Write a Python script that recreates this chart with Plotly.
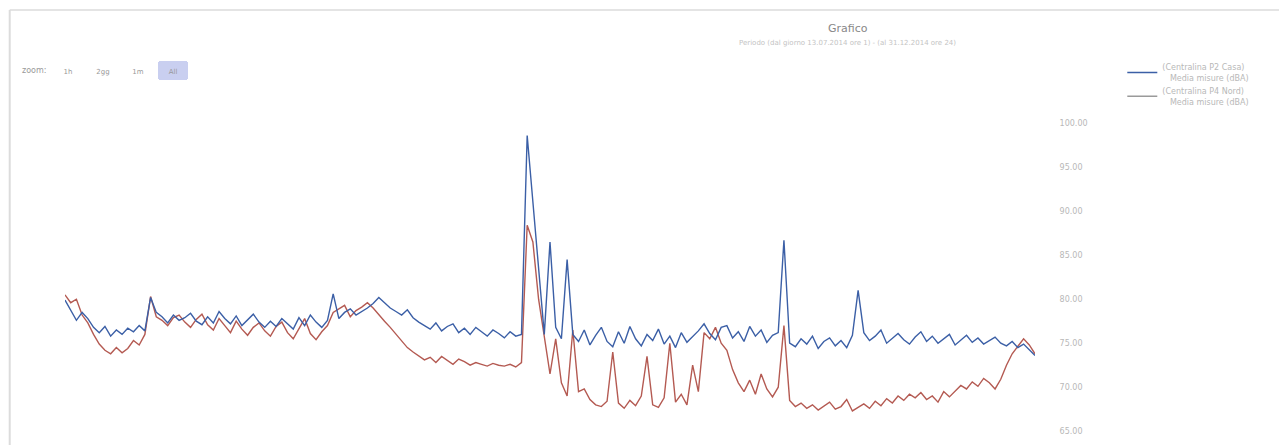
import pandas as pd
import plotly.graph_objects as go

start_date = "2014-07-13"

p2_casa = [
    79.9, 78.8, 77.6, 78.5, 77.8,
    76.8, 76.2, 76.9, 75.8, 76.5, 76.0, 76.7, 76.3, 77.0, 76.4,
    80.2,
    78.5, 78.0, 77.3, 78.2, 77.6, 77.9, 78.4, 77.5, 77.1, 78.0,
    77.3, 78.6, 77.8, 77.2, 78.1, 77.0, 77.6, 78.3, 77.4, 76.8,
    77.5, 76.9, 77.8, 77.2, 76.6, 77.9, 77.0, 78.2, 77.4, 76.8, 77.6,
    80.6,
    77.8, 78.5, 78.9, 78.2, 78.6, 79.0, 79.5,
    80.2, 79.6,
    79.0, 78.6, 78.2, 78.8, 77.9, 77.4,
    77.0, 76.6, 77.3, 76.4, 76.9, 77.2, 76.2, 76.7, 76.0, 76.8, 76.3, 75.8, 76.5, 76.1,
    75.6, 76.3, 75.8, 76.0,
    98.6, 91.3, 83.5, 76.0, 86.5, 76.8, 75.5, 84.5, 76.0, 75.2,
    76.5, 74.8, 75.9, 76.8, 75.2, 74.6, 76.3, 75.0, 76.9, 75.5, 74.7, 76.0, 75.3, 76.6, 74.9, 75.8, 74.5, 76.2, 75.1, 75.7, 76.4,
    77.2, 76.1, 75.4, 76.8, 77.0, 75.6, 76.3, 75.2, 76.9, 75.8, 76.5, 75.1, 75.9, 76.2,
    86.7,
    75.0, 74.6, 75.5, 74.9, 75.8, 74.4, 75.2, 75.6, 74.7, 75.3, 74.5, 75.9,
    81.0,
    76.2, 75.3, 75.8, 76.5, 75.0, 75.6, 76.1, 75.4, 74.9, 75.7, 76.3, 75.2, 75.8, 75.0, 75.5, 76.0, 74.8, 75.4, 75.9, 75.1, 75.6, 74.9, 75.3, 75.7, 75.0,
    74.7, 75.2, 74.5, 74.9, 74.2, 73.6,
]

p4_nord = [
    80.5, 79.6, 80.0, 78.2, 77.3,
    76.0, 74.9, 74.2, 73.8, 74.5, 73.9, 74.4, 75.3, 74.8, 76.0,
    80.3,
    78.0, 77.6, 77.0, 77.9, 78.2, 77.4, 76.8, 77.7, 78.3, 77.1,
    76.5, 77.8, 77.0, 76.2, 77.5, 76.6, 75.9, 76.8, 77.3, 76.4,
    75.8, 76.9, 77.4, 76.2, 75.5, 76.7, 77.8, 76.1, 75.4, 76.3, 77.0,
    78.5, 78.9, 79.3, 78.0, 78.7, 79.1, 79.6, 79.0,
    78.2, 77.5, 76.8, 76.0, 75.2, 74.5, 74.0, 73.6,
    73.1, 73.4, 72.8, 73.5, 73.0, 72.6, 73.2, 72.9, 72.5, 72.8, 72.6, 72.4, 72.7, 72.5,
    72.4, 72.6, 72.3, 72.8,
    88.4, 86.5, 80.0, 76.0, 71.5, 75.5, 70.5, 69.0, 76.5, 69.5,
    69.8, 68.6, 68.0, 67.8, 68.4, 74.0, 68.2, 67.6, 68.5, 67.9, 69.0, 73.5, 68.0, 67.7, 68.8, 75.0, 68.3, 69.2, 68.0, 72.5, 69.5,
    76.2, 75.5, 76.8, 75.0, 74.2, 72.0, 70.5,
    69.5, 70.8, 69.2, 71.5, 69.8, 68.9, 70.0,
    77.0,
    68.5, 67.8, 68.2, 67.6, 68.0, 67.4, 67.9, 68.3, 67.5, 67.8, 68.6, 67.3, 67.7, 68.1, 67.6, 68.4, 67.9, 68.7, 68.2, 69.0, 68.5, 69.2, 68.8, 69.4, 68.6, 69.0, 68.3, 69.5, 68.9,
    69.6, 70.2, 69.8, 70.6, 70.1, 71.0, 70.5, 69.8, 70.9,
    72.5, 73.8, 74.6, 75.5, 74.8, 73.8,
]

y_tick_vals = [100, 95, 90, 85, 80, 75, 70, 65]
y_tick_text = ["100.00", "95.00", "90.00", "85.00", "80.00", "75.00", "70.00", "65.00"]

series_names = [
    "(Centralina P2 Casa)<br>&nbsp;&nbsp;&nbsp;Media misure (dBA)",
    "(Centralina P4 Nord)<br>&nbsp;&nbsp;&nbsp;Media misure (dBA)",
]

dates_a = pd.date_range(start_date, periods=len(p2_casa), freq="D")
dates_b = pd.date_range(start_date, periods=len(p4_nord), freq="D")

fig = go.Figure()
fig.add_trace(go.Scatter(x=dates_b, y=p4_nord, mode="lines", name=series_names[1],
                         line=dict(color="#b45a52", width=1.4), showlegend=False))
fig.add_trace(go.Scatter(x=dates_a, y=p2_casa, mode="lines", name=series_names[0],
                         line=dict(color="#3b5fa6", width=1.4)))
fig.add_trace(go.Scatter(x=[dates_b[0]], y=[None], mode="lines", name=series_names[1],
                         line=dict(color="#9a9a9a", width=1.4)))

gray = "#b8b8b8"
# plot area: 970 px wide (65..1035), 330 px high
fig.update_layout(
    width=1287, height=445,
    margin=dict(l=57, r=260, t=102, b=13),
    paper_bgcolor="white", plot_bgcolor="white",
    font=dict(family="DejaVu Sans", size=8, color=gray),
    showlegend=True,
    legend=dict(x=1.09, y=1.165, xanchor="left", yanchor="top",
                font=dict(size=8, color=gray), bgcolor="rgba(0,0,0,0)",
                itemwidth=30, tracegroupgap=2),
    xaxis=dict(
        showgrid=False, zeroline=False, showline=False, showticklabels=False,
        rangeselector=dict(
            buttons=[
                dict(count=1, label="1h", step="hour", stepmode="backward"),
                dict(count=2, label="2gg", step="day", stepmode="backward"),
                dict(count=1, label="1m", step="month", stepmode="backward"),
                dict(label="All", step="all"),
            ],
            x=-0.012, y=1.121, xanchor="left", yanchor="middle",
            bgcolor="white", activecolor="#c9cff0",
            font=dict(size=7, color="#999999"),
        ),
    ),
    yaxis=dict(
        side="right", range=[64, 101.5], showgrid=False, zeroline=False,
        tickvals=y_tick_vals, ticktext=y_tick_text,
        ticks="outside", ticklen=22, tickcolor="white",
        tickfont=dict(size=8, color=gray),
    ),
    annotations=[
        dict(text="Grafico", x=0.807, y=1.248, xref="paper", yref="paper",
             xanchor="center", yanchor="middle",
             showarrow=False, font=dict(size=11, color="#888888")),
        dict(text="Periodo (dal giorno 13.07.2014 ore 1) - (al 31.12.2014 ore 24)",
             x=0.807, y=1.203, xref="paper", yref="paper",
             xanchor="center", yanchor="middle",
             showarrow=False, font=dict(size=7, color="#c4c4c4")),
        dict(text="zoom:", x=-0.046, y=1.121, xref="paper", yref="paper",
             xanchor="left", yanchor="middle",
             showarrow=False, font=dict(size=8, color="#999999")),
    ],
    shapes=[
        dict(type="line", xref="paper", yref="paper", x0=-0.057, x1=1.28,
             y0=1.303, y1=1.303, line=dict(color="#e4e4e4", width=2)),
        dict(type="line", xref="paper", yref="paper", x0=-0.057, x1=-0.057,
             y0=-0.02, y1=1.303, line=dict(color="#dcdcdc", width=2)),
    ],
)

fig.write_html("out.html")
